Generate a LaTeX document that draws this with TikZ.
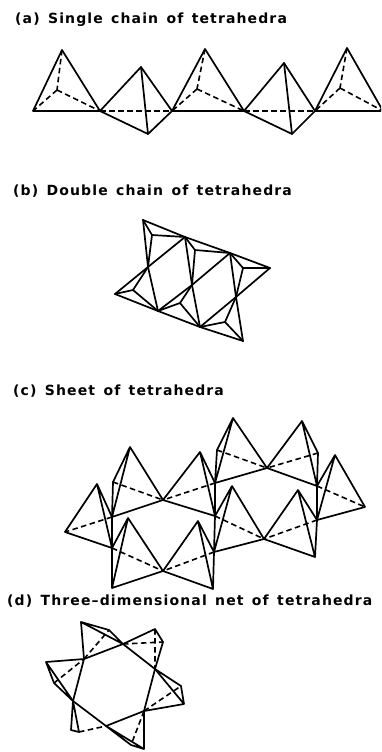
\documentclass[tikz,border=0pt]{standalone}
\usepackage{fontspec}
\setmainfont{DejaVu Sans}[LetterSpace=8, WordSpace=1.4]
\begin{document}
\begin{tikzpicture}[x=1pt, y=-1pt, line join=round,
  edge/.style={line width=1.7pt, line cap=round},
  hid/.style={line width=1.6pt, dash pattern=on 5.5pt off 3.5pt},
  lbl/.style={anchor=base west, inner sep=0pt, font=\fontsize{14}{16}\selectfont\bfseries}]
\useasboundingbox (0,0) rectangle (381,752);
\clip (0,0) rectangle (381,752);

% ---------- captions ----------
\node[lbl] (la) at (15,24)    {(a) Single chain of tetrahedra};
\node[lbl] (lb) at (13,195)   {(b) Double chain of tetrahedra};
\node[lbl] (lc) at (13,395.5) {(c) Sheet of tetrahedra};
\node[lbl] (ld) at (7,605.5)  {(d) Three--dimensional net of tetrahedra};

% ---------- (a) single chain ----------
\coordinate (a0) at (33,111);  \coordinate (a1) at (100,111);
\coordinate (a2) at (172,111); \coordinate (a3) at (244,111);
\coordinate (a4) at (315,111); \coordinate (a5) at (383,111);
\coordinate (at1) at (62,50);  \coordinate (ac1) at (57,90);
\coordinate (at3) at (205,49); \coordinate (ac3) at (197,89);
\coordinate (at5) at (347,48); \coordinate (ac5) at (340,88);
\coordinate (au2) at (141,67); \coordinate (ad2) at (148,134);
\coordinate (au4) at (284,63); \coordinate (ad4) at (292,134);
% upward tetrahedra
\foreach \l/\t/\c/\r in {a0/at1/ac1/a1, a2/at3/ac3/a3, a4/at5/ac5/a5}{
  \draw[edge] (\l) -- (\t) -- (\r) -- cycle;
  \draw[hid] (\t) -- (\c) (\c) -- (\l) (\c) -- (\r);
}
% downward tetrahedra
\foreach \l/\u/\d/\r in {a1/au2/ad2/a2, a3/au4/ad4/a4}{
  \draw[edge] (\l) -- (\u) -- (\r) -- (\d) -- cycle;
  \draw[edge] (\u) -- (\d);
  \draw[hid] (\l) -- (\r);
}

% ---------- (b) double chain ----------
\coordinate (t0) at (143,220); \coordinate (t1) at (185,237);
\coordinate (t2) at (230,253); \coordinate (t3) at (270,268);
\coordinate (m0) at (148,267); \coordinate (m1) at (192,285);
\coordinate (m2) at (236,297);
\coordinate (b0) at (115,294); \coordinate (b1) at (158,311);
\coordinate (b2) at (200,327); \coordinate (b3) at (243,341);
\coordinate (p1) at (152,235); \coordinate (p2) at (195,250);
\coordinate (p3) at (243,268);
\coordinate (q1) at (133,290); \coordinate (q2) at (180,303);
\coordinate (q3) at (225,322);
\draw[edge] (t0) -- (t1) -- (t2) -- (t3);
\draw[edge] (b0) -- (b1) -- (b2) -- (b3);
\draw[edge] (t0) -- (m0) -- (b1) (t1) -- (m1) -- (b2) (t2) -- (m2) -- (b3);
\draw[edge] (b0) -- (m0) -- (t1) (b1) -- (m1) -- (t2) (b2) -- (m2) -- (t3);
\foreach \p/\x/\y/\z in {p1/t0/t1/m0, p2/t1/t2/m1, p3/t2/t3/m2,
                         q1/b0/b1/m0, q2/b1/b2/m1, q3/b2/b3/m2}{
  \draw[edge] (\p) -- (\x) (\p) -- (\y) (\p) -- (\z);
}

% ---------- (c) sheet ----------
\coordinate (c1a) at (113,482); \coordinate (c1b) at (112,517);
\coordinate (c1c) at (112,548); \coordinate (c1d) at (112,588);
\coordinate (c2a) at (217,450); \coordinate (c2b) at (215,483);
\coordinate (c2c) at (215,516); \coordinate (c2d) at (214,552);
\coordinate (c2e) at (213,589);
\coordinate (c3a) at (318,453); \coordinate (c3b) at (317,486);
\coordinate (c3c) at (317,520); \coordinate (c3d) at (315,557);
\coordinate (x1) at (163,500); \coordinate (x2) at (163,571);
\coordinate (x3) at (267,468); \coordinate (x4) at (264,539);
\coordinate (lt) at (65,532);  \coordinate (rt) at (365,507);
\coordinate (s1) at (130,447); \coordinate (s2) at (200,452);
\coordinate (s3) at (233,418); \coordinate (s4) at (302,421);
\coordinate (s5) at (335,455); \coordinate (s6) at (97,484);
\coordinate (s7) at (128,518); \coordinate (s8) at (198,521);
\coordinate (s9) at (232,486); \coordinate (s10) at (298,490);
% apex / back corner / front corner / far corner
\foreach \s/\u/\n/\x in {s6/c1b/c1c/lt, s1/c1a/c1b/x1, s7/c1c/c1d/x2,
                         s2/c2b/c2c/x1, s8/c2d/c2e/x2, s3/c2a/c2b/x3,
                         s9/c2c/c2d/x4, s4/c3a/c3b/x3, s10/c3c/c3d/x4,
                         s5/c3b/c3c/rt}{
  \draw[hid] (\u) -- (\x);
  \draw[edge] (\s) -- (\u) (\s) -- (\n) (\s) -- (\x) (\u) -- (\n) -- (\x);
}

% ---------- (d) three-dimensional net ----------
\coordinate (h1) at (84,659);  \coordinate (h2) at (123,644);
\coordinate (h3) at (155,669); \coordinate (h4) at (144,711);
\coordinate (h5) at (106,726); \coordinate (h6) at (73,701);
\coordinate (ka) at (81,622);  \coordinate (kb) at (109,630);
\coordinate (kc) at (155,629); \coordinate (kd) at (163,642);
\coordinate (kf) at (181,686); \coordinate (kg) at (184,704);
\coordinate (kk) at (144,749); \coordinate (km) at (131,745);
\coordinate (kr1) at (71,730); \coordinate (kr2) at (79,732);
\coordinate (kq) at (54,683);  \coordinate (kp) at (46,662);
\draw[edge] (h1) -- (h2) -- (h3) -- (h4) -- (h5) -- (h6) -- cycle;
% top-left
\draw[edge] (h1) -- (ka) -- (kb) -- (h2) -- (ka);
\draw[hid] (h1) -- (kb);
% top-right
\draw[edge] (h2) -- (kc) -- (kd) -- (h3);
\draw[hid] (h2) -- (kd) (kc) -- (h3);
% right
\draw[edge] (h3) -- (kf) -- (kg) -- (h4) (h3) -- (kg);
\draw[hid] (h4) -- (kf);
% bottom-right
\draw[edge] (h4) -- (kk) -- (km) -- (h5) -- (kk);
\draw[hid] (h4) -- (km);
% bottom-left
\draw[edge] (h6) -- (kr1) -- (kr2) -- (h6);
\draw[hid] (kr2) -- (h5);
% left
\draw[edge] (h1) -- (kp) -- (kq) -- (h6) -- (kp);
\draw[hid] (kq) -- (h1);
\end{tikzpicture}
\end{document}
